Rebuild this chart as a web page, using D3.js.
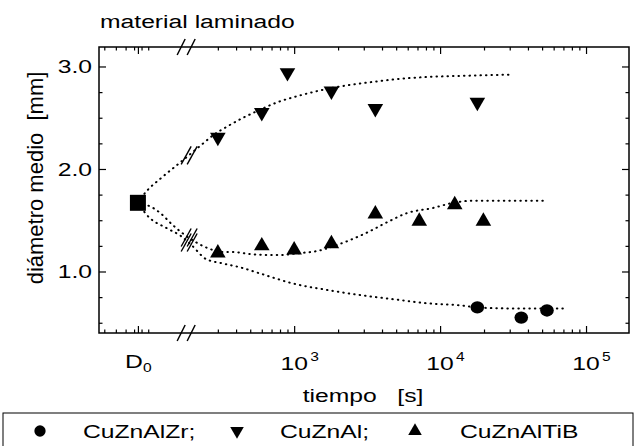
<!DOCTYPE html>
<html>
<head>
<meta charset="utf-8">
<script src="https://cdn.jsdelivr.net/npm/d3@7"></script>
<style>
  body { margin: 0; background: #fff; }
  svg { display: block; font-family: "Liberation Sans", Arial, sans-serif; }
</style>
</head>
<body>
<script>
// valores (tiempo en s, diámetro medio en mm)
var d0Time = 85, d0Value = 1.67;   // D0 se dibuja en una posición nominal antes del corte
var breakTime = 182;               // corte del eje x

var zrTimes = [18000, 36000, 54000];
var zrValues = [0.65, 0.55, 0.62];

var alTimes = [300, 600, 900, 1800, 3600, 18000];
var alValues = [2.31, 2.55, 2.94, 2.76, 2.59, 2.65];

var tibTimes = [300, 600, 1000, 1800, 3600, 7200, 12600, 19800];
var tibValues = [1.18, 1.25, 1.21, 1.27, 1.56, 1.49, 1.65, 1.49];

// curvas punteadas (ajustes)
var alFitTimes = [85, 92, 127, 158, 200, 238, 279, 353, 448, 567, 765, 1050, 1440, 2170, 3480, 5320, 8960, 15300, 30100];
var alFitValues = [1.67, 1.74, 1.93, 2.04, 2.16, 2.25, 2.33, 2.42, 2.50, 2.57, 2.65, 2.71, 2.76, 2.81, 2.85, 2.88, 2.90, 2.91, 2.92];

var tibFitTimes = [85, 108, 121, 148, 194, 254, 326, 382, 500, 765, 1100, 1440, 2070, 3160, 4330, 5940, 8960, 12300, 16800, 25800, 50700];
var tibFitValues = [1.67, 1.62, 1.57, 1.45, 1.32, 1.23, 1.19, 1.19, 1.17, 1.16, 1.18, 1.20, 1.27, 1.38, 1.48, 1.57, 1.62, 1.67, 1.69, 1.69, 1.69];

var zrFitTimes = [85, 98, 135, 166, 194, 250, 320, 427, 557, 718, 940, 1680, 2830, 4760, 8150, 13700, 17900, 28800, 43300, 74100];
var zrFitValues = [1.67, 1.55, 1.42, 1.35, 1.27, 1.12, 1.08, 1.04, 0.99, 0.94, 0.89, 0.82, 0.77, 0.73, 0.69, 0.67, 0.65, 0.64, 0.64, 0.64];

// ejes
var xMajorTicks = [1000, 10000, 100000];
var xTickExponents = ["3", "4", "5"];
var xLeftMinorTicks = [50, 60, 70, 80, 90, 100];
var yMajorTicks = [1.0, 2.0, 3.0];
var yTickLabels = ["1.0", "2.0", "3.0"];
var yMinorTicks = [0.5, 0.75, 1.25, 1.5, 1.75, 2.25, 2.5, 2.75];

var titleText = "material laminado";
var xLabelText = "tiempo\u00a0\u00a0\u00a0[s]";
var yLabelText = "diámetro medio\u00a0\u00a0[mm]";
var legendLabels = ["CuZnAlZr;", "CuZnAl;", "CuZnAlTiB"];

var w = 637, h = 446;
var pLeft = 99, pRight = 629, pTop = 47, pBottom = 333;
var sx = 1.3; // el escaneo está estirado en horizontal

var svg = d3.select("body").append("svg").attr("width", w).attr("height", h);

var x = d3.scaleLog().domain([46, 197000]).range([pLeft, pRight]);
var y = d3.scaleLinear().domain([0.4, 3.19]).range([pBottom, pTop]);

// ticks menores: 2..9 de cada década, sin el que cae en el corte
var xMinorTicks = xLeftMinorTicks.slice();
[100, 1000, 10000].forEach(function (dec) {
  for (var m = 2; m <= 9; m++) xMinorTicks.push(m * dec);
});
xMinorTicks = xMinorTicks.filter(function (t) {
  return t < 197000 && Math.abs(x(t) - x(breakTime)) > 12;
});

function text(g, px, py, txt, size, anchor) {
  return g.append("text")
    .attr("transform", "translate(" + px + "," + py + ") scale(" + sx + ",1)")
    .attr("font-size", size)
    .attr("text-anchor", anchor || "start")
    .attr("fill", "#000")
    .text(txt);
}

function noDomain(g) { g.select(".domain").remove(); }

// ejes (ticks hacia dentro en los cuatro lados)
var xMajorAll = xMajorTicks.concat([d0Time]);
svg.append("g").attr("transform", "translate(0," + pBottom + ")")
  .call(d3.axisBottom(x).tickValues(xMinorTicks).tickSize(-3.5).tickFormat("")).call(noDomain);
svg.append("g").attr("transform", "translate(0," + pBottom + ")")
  .call(d3.axisBottom(x).tickValues(xMajorAll).tickSize(-7).tickFormat("")).call(noDomain);
svg.append("g").attr("transform", "translate(0," + pTop + ")")
  .call(d3.axisTop(x).tickValues(xMinorTicks).tickSize(-3.5).tickFormat("")).call(noDomain);
svg.append("g").attr("transform", "translate(0," + pTop + ")")
  .call(d3.axisTop(x).tickValues(xMajorAll).tickSize(-7).tickFormat("")).call(noDomain);
svg.append("g").attr("transform", "translate(" + pLeft + ",0)")
  .call(d3.axisLeft(y).tickValues(yMinorTicks).tickSize(-3.5).tickFormat("")).call(noDomain);
svg.append("g").attr("transform", "translate(" + pLeft + ",0)")
  .call(d3.axisLeft(y).tickValues(yMajorTicks).tickSize(-7).tickFormat("")).call(noDomain);
svg.append("g").attr("transform", "translate(" + pRight + ",0)")
  .call(d3.axisRight(y).tickValues(yMinorTicks).tickSize(-3.5).tickFormat("")).call(noDomain);
svg.append("g").attr("transform", "translate(" + pRight + ",0)")
  .call(d3.axisRight(y).tickValues(yMajorTicks).tickSize(-7).tickFormat("")).call(noDomain);
svg.selectAll(".tick line").attr("stroke", "#000").attr("stroke-width", 1.2);

// marco
svg.append("rect")
  .attr("x", pLeft).attr("y", pTop)
  .attr("width", pRight - pLeft).attr("height", pBottom - pTop)
  .attr("fill", "none").attr("stroke", "#000").attr("stroke-width", 1.5);

// marcas de corte en el eje x
var xb = x(breakTime);
[pTop, pBottom].forEach(function (ay) {
  [-5, 5].forEach(function (off) {
    svg.append("line")
      .attr("x1", xb + off - 4).attr("y1", ay + 8)
      .attr("x2", xb + off + 4).attr("y2", ay - 8)
      .attr("stroke", "#000").attr("stroke-width", 1.5);
  });
});

// etiquetas de los ticks
var labels = svg.append("g");
yMajorTicks.forEach(function (v, i) {
  text(labels, 92, y(v) + 7, yTickLabels[i], 19, "end");
});
xMajorTicks.forEach(function (t, i) {
  text(labels, x(t), 370, "10", 19, "middle");
  text(labels, x(t) + 16, 361, xTickExponents[i], 12, "start");
});
text(labels, x(d0Time) - 4, 368, "D", 19, "middle");
text(labels, x(d0Time) + 5, 372, "0", 12, "start");

// títulos
text(svg, 100, 28, titleText, 19, "start");
text(svg, 363, 402, xLabelText, 19, "middle");
svg.append("text")
  .attr("transform", "translate(43,178) rotate(-90)")
  .attr("font-size", 22)
  .attr("text-anchor", "middle")
  .text(yLabelText);

// curvas punteadas
var line = d3.line()
  .x(function (d) { return x(d[0]); })
  .y(function (d) { return y(d[1]); })
  .curve(d3.curveMonotoneX);

var fits = [
  [alFitTimes, alFitValues],
  [tibFitTimes, tibFitValues],
  [zrFitTimes, zrFitValues]
];
fits.forEach(function (f) {
  svg.append("path")
    .attr("d", line(d3.zip(f[0], f[1])))
    .attr("fill", "none")
    .attr("stroke", "#000")
    .attr("stroke-width", 2)
    .attr("stroke-linecap", "round")
    .attr("stroke-dasharray", "0.5,5");
});

// marcas de corte sobre las curvas
function valueAt(times, values, t) {
  var lt = Math.log10(t);
  for (var i = 1; i < times.length; i++) {
    if (t <= times[i]) {
      var a = Math.log10(times[i - 1]), b = Math.log10(times[i]);
      return values[i - 1] + (values[i] - values[i - 1]) * (lt - a) / (b - a);
    }
  }
  return values[values.length - 1];
}
fits.forEach(function (f) {
  var cx = x(breakTime) + 3, cy = y(valueAt(f[0], f[1], breakTime * 1.04));
  [-3, 3].forEach(function (off) {
    svg.append("line")
      .attr("x1", cx + off - 5).attr("y1", cy + 9)
      .attr("x2", cx + off + 5).attr("y2", cy - 9)
      .attr("stroke", "#000").attr("stroke-width", 1.4);
  });
});

// símbolos
var circleSym = d3.symbol(d3.symbolCircle, 120);
var triSym = d3.symbol(d3.symbolTriangle, 105);
var squareSym = d3.symbol(d3.symbolSquare, 256);

svg.append("g").selectAll("path")
  .data(d3.zip(zrTimes, zrValues)).enter().append("path")
  .attr("d", circleSym)
  .attr("transform", function (d) { return "translate(" + x(d[0]) + "," + y(d[1]) + ") scale(1.1,1)"; })
  .attr("fill", "#000");

svg.append("g").selectAll("path")
  .data(d3.zip(alTimes, alValues)).enter().append("path")
  .attr("d", triSym)
  .attr("transform", function (d) { return "translate(" + x(d[0]) + "," + y(d[1]) + ") rotate(180)"; })
  .attr("fill", "#000");

svg.append("g").selectAll("path")
  .data(d3.zip(tibTimes, tibValues)).enter().append("path")
  .attr("d", triSym)
  .attr("transform", function (d) { return "translate(" + x(d[0]) + "," + y(d[1]) + ")"; })
  .attr("fill", "#000");

svg.append("path")
  .attr("d", squareSym)
  .attr("transform", "translate(" + x(d0Time) + "," + y(d0Value) + ")")
  .attr("fill", "#000");

// leyenda
var legend = svg.append("g");
legend.append("rect")
  .attr("x", 3).attr("y", 413).attr("width", 630).attr("height", 50)
  .attr("fill", "none").attr("stroke", "#000").attr("stroke-width", 1);
var legendSymbols = [
  { d: d3.symbol(d3.symbolCircle, 100)(), rot: 0, mx: 40, tx: 83 },
  { d: d3.symbol(d3.symbolTriangle, 80)(), rot: 180, mx: 237, tx: 280 },
  { d: d3.symbol(d3.symbolTriangle, 80)(), rot: 0, mx: 415, tx: 460 }
];
legendSymbols.forEach(function (s, i) {
  legend.append("path")
    .attr("d", s.d)
    .attr("transform", "translate(" + s.mx + ",431) rotate(" + s.rot + ")")
    .attr("fill", "#000");
  text(legend, s.tx, 438, legendLabels[i], 19, "start");
});
</script>
</body>
</html>
